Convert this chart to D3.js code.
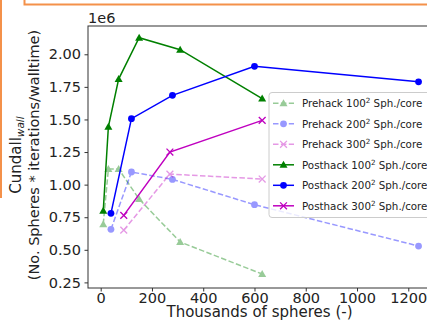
<!DOCTYPE html>
<html lang="en">
<head>
<meta charset="utf-8">
<title>Cundall</title>
<style>
  body { margin: 0; background: #fff; }
  svg { display: block; font-family: "DejaVu Sans", sans-serif; }
</style>
<script src="https://cdn.jsdelivr.net/npm/d3@7/dist/d3.min.js"></script>
</head>
<body>
<script>
// thousands of spheres (x) and Cundall_wall in units of 1e6 (y)
var xs100 = [10, 30, 70, 150, 310, 630];
var pre100 = [0.697, 1.12, 1.12, 0.889, 0.56, 0.314];
var post100 = [0.80, 1.444, 1.81, 2.127, 2.035, 1.66];
var xs200 = [40, 120, 280, 600, 1240];
var pre200 = [0.657, 1.097, 1.04, 0.846, 0.529];
var post200 = [0.78, 1.506, 1.685, 1.908, 1.789];
var xs300 = [90, 270, 630];
var pre300 = [0.651, 1.081, 1.043];
var post300 = [0.764, 1.25, 1.493];

var xTicks = [0, 200, 400, 600, 800, 1000, 1200];
var yTicks = [0.25, 0.50, 0.75, 1.00, 1.25, 1.50, 1.75, 2.00];

var series = [
  {label: "Prehack 100", xs: xs100, ys: pre100, color: "#008000", marker: "tri", dashed: true},
  {label: "Prehack 200", xs: xs200, ys: pre200, color: "#0000ff", marker: "circ", dashed: true},
  {label: "Prehack 300", xs: xs300, ys: pre300, color: "#bf00bf", marker: "x", dashed: true},
  {label: "Posthack 100", xs: xs100, ys: post100, color: "#008000", marker: "tri", dashed: false},
  {label: "Posthack 200", xs: xs200, ys: post200, color: "#0000ff", marker: "circ", dashed: false},
  {label: "Posthack 300", xs: xs300, ys: post300, color: "#bf00bf", marker: "x", dashed: false}
];

var W = 427, H = 324;
var pL = 88, pT = 26, pR = 437, pB = 288;

var svg = d3.select("body").append("svg")
  .attr("width", W).attr("height", H);

var x = d3.scaleLinear().domain([-49.5, 1312]).range([pL, pR]);
var y = d3.scaleLinear().domain([0.207, 2.217]).range([pB, pT]);

// orange screenshot frame remnants
svg.append("line").attr("x1", 1).attr("x2", 1).attr("y1", 0).attr("y2", 198)
  .attr("stroke", "#f4914a").attr("stroke-width", 2);
svg.append("path").attr("d", "M24.5,0 V4.5 H427")
  .attr("fill", "none").attr("stroke", "#f4914a").attr("stroke-width", 2);

svg.append("clipPath").attr("id", "plot")
  .append("rect").attr("x", pL).attr("y", pT)
  .attr("width", pR - pL).attr("height", pB - pT);

function marker(g, type, color, cx, cy) {
  if (type === "tri") {
    var s = 4;
    g.append("path")
      .attr("d", "M" + cx + "," + (cy - s) + " L" + (cx + s) + "," + (cy + s * 0.75) +
        " L" + (cx - s) + "," + (cy + s * 0.75) + "Z")
      .attr("fill", color);
  } else if (type === "circ") {
    g.append("circle").attr("cx", cx).attr("cy", cy).attr("r", 3.4).attr("fill", color);
  } else {
    var k = 3.4;
    g.append("path")
      .attr("d", "M" + (cx - k) + "," + (cy - k) + "L" + (cx + k) + "," + (cy + k) +
        "M" + (cx - k) + "," + (cy + k) + "L" + (cx + k) + "," + (cy - k))
      .attr("stroke", color).attr("stroke-width", 1.3).attr("fill", "none");
  }
}

var plot = svg.append("g").attr("clip-path", "url(#plot)");
var line = d3.line().x(function(d) { return x(d[0]); }).y(function(d) { return y(d[1]); });

series.forEach(function(s) {
  var pts = s.xs.map(function(v, i) { return [v, s.ys[i]]; });
  var g = plot.append("g").attr("opacity", s.dashed ? 0.4 : 1);
  g.append("path").datum(pts)
    .attr("d", line)
    .attr("fill", "none")
    .attr("stroke", s.color)
    .attr("stroke-width", 1.5)
    .attr("stroke-dasharray", s.dashed ? "5.5,2.4" : null);
  pts.forEach(function(p) { marker(g, s.marker, s.color, x(p[0]), y(p[1])); });
});

// axes frame
svg.append("rect").attr("x", pL).attr("y", pT)
  .attr("width", pR - pL).attr("height", pB - pT)
  .attr("fill", "none").attr("stroke", "#333").attr("stroke-width", 1);

var xAxis = svg.append("g").attr("transform", "translate(0," + pB + ")")
  .call(d3.axisBottom(x).tickValues(xTicks).tickSize(3.5).tickPadding(1).tickFormat(d3.format("d")));
var yAxis = svg.append("g").attr("transform", "translate(" + pL + ",0)")
  .call(d3.axisLeft(y).tickValues(yTicks).tickSize(3.5).tickPadding(3.5).tickFormat(d3.format(".2f")));
[xAxis, yAxis].forEach(function(a) {
  a.select(".domain").remove();
  a.selectAll("line").attr("stroke", "#333");
  a.selectAll("text").attr("fill", "#222").style("font-size", "14.5px")
    .style("font-family", "DejaVu Sans");
});

svg.append("text").attr("x", pL).attr("y", 23)
  .style("font-size", "14.5px").attr("fill", "#222").text("1e6");

svg.append("text").attr("x", (pL + 427) / 2 + 2).attr("y", 317)
  .attr("text-anchor", "middle").style("font-size", "15px").attr("fill", "#222")
  .text("Thousands of spheres (-)");

var yl = svg.append("g").attr("transform", "translate(0,155) rotate(-90)");
var t1 = yl.append("text").attr("x", 0).attr("y", 21).attr("text-anchor", "middle")
  .style("font-size", "15px").attr("fill", "#222");
t1.append("tspan").text("Cundall");
t1.append("tspan").attr("font-style", "italic").style("font-size", "10.5px")
  .attr("dy", 3).text("wall");
yl.append("text").attr("x", 0).attr("y", 38.5).attr("text-anchor", "middle")
  .style("font-size", "14.5px").attr("fill", "#222")
  .text("(No. Spheres * iterations/walltime)");

// legend
var lg = svg.append("g");
lg.append("rect").attr("x", 269).attr("y", 92.5).attr("width", 180).attr("height", 125)
  .attr("rx", 3).attr("fill", "#fff").attr("fill-opacity", 0.8)
  .attr("stroke", "#ccc").attr("stroke-width", 1);
series.forEach(function(s, i) {
  var cy = 103.3 + i * 20.5;
  var g = lg.append("g").attr("opacity", s.dashed ? 0.4 : 1);
  g.append("line").attr("x1", 273).attr("x2", 294).attr("y1", cy).attr("y2", cy)
    .attr("stroke", s.color).attr("stroke-width", 1.5)
    .attr("stroke-dasharray", s.dashed ? "5.5,2.4" : null);
  marker(g, s.marker, s.color, 283.5, cy);
  var t = lg.append("text").attr("x", 302).attr("y", cy + 3.7)
    .style("font-size", "10.3px").attr("fill", "#222");
  t.append("tspan").text(s.label);
  t.append("tspan").attr("dy", -4).style("font-size", "7.2px").text("2");
  t.append("tspan").attr("dy", 4).text(" Sph./core");
});
</script>
</body>
</html>
